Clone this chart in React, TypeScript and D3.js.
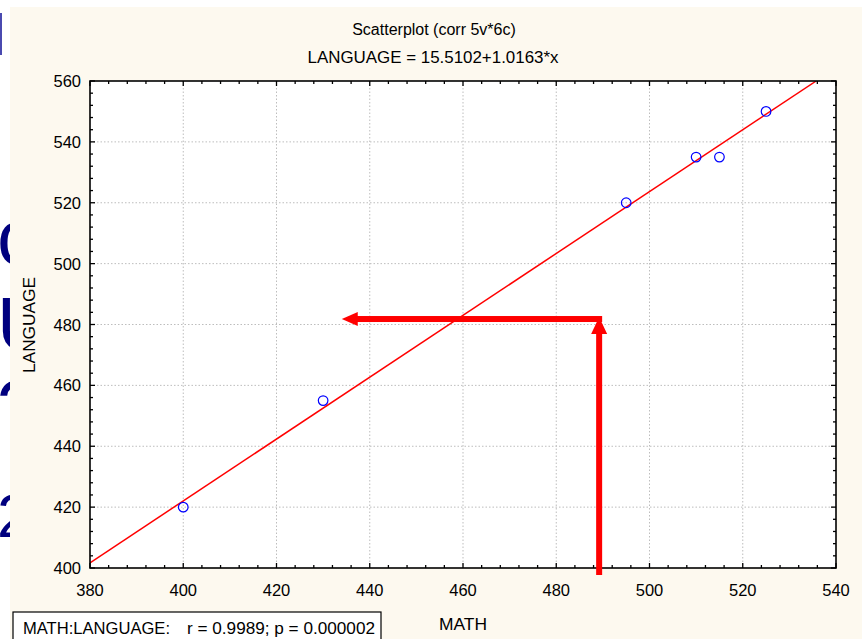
import React from "react";
import * as d3 from "d3";

// Observations: MATH score vs LANGUAGE score
const mathScores = [400, 430, 495, 510, 515, 525];
const languageScores = [420, 455, 520, 535, 535, 550];

// Fitted line LANGUAGE = a + b * MATH
const intercept = 15.5102;
const slope = 1.0163;

const xTicks = [380, 400, 420, 440, 460, 480, 500, 520, 540];
const yTicks = [400, 420, 440, 460, 480, 500, 520, 540, 560];

// Reading guide: from a MATH value up to the line, then across to LANGUAGE
const guideMath = 489.2;
const guideLanguage = 481.8;
const guideLeftEnd = 434;
const guideBottom = 397.7;

// Fragments of large slide lettering behind the panel
const sideGlyphs = [
  { ch: "c", y: 264, size: 78 },
  { ch: "U", y: 350, size: 76 },
  { ch: "?", y: 434, size: 78 },
  { ch: "2", y: 537, size: 62 },
];

const W = 862;
const H = 639;
const M = { left: 90, right: 836, top: 81, bottom: 568 };
const FONT = "'Liberation Sans', Arial, sans-serif";

export default function App() {
  const x = d3.scaleLinear().domain([380, 540]).range([M.left, M.right]);
  const y = d3.scaleLinear().domain([400, 560]).range([M.bottom, M.top]);

  const minorX = d3.range(380, 540.1, 4);
  const minorY = d3.range(400, 560.1, 4);

  const fit = (v: number) => intercept + slope * v;
  const xEnd = (560 - intercept) / slope;
  const line = d3.line<number>().x((v) => x(v)).y((v) => y(fit(v)));
  const lineD = line([380, xEnd]) || "";

  const gx = x(guideMath);
  const gy = y(guideLanguage);
  const gl = x(guideLeftEnd);
  const gb = y(guideBottom);

  return (
    <svg
      width={W}
      height={H}
      style={{ position: "absolute", left: 0, top: 0, display: "block" }}
      fontFamily={FONT}
    >
      <rect x={0} y={0} width={W} height={H} fill="#ffffff" />
      <rect x={0} y={13} width={2} height={42} fill="#4a4ab0" />
      {sideGlyphs.map((g, i) => (
        <text key={i} x={-3} y={g.y} fontSize={g.size} fill="#00007f" fontFamily={FONT}>
          {g.ch}
        </text>
      ))}
      <rect x={10} y={7} width={W - 10} height={H - 7} fill="#fdf9ef" />

      {/* titles */}
      <text x={434} y={35} textAnchor="middle" fontSize={16} fill="#000">
        Scatterplot (corr 5v*6c)
      </text>
      <text x={433} y={63} textAnchor="middle" fontSize={16} fill="#000" textLength={251} lengthAdjust="spacingAndGlyphs">
        LANGUAGE = 15.5102+1.0163*x
      </text>

      {/* plot area */}
      <rect x={M.left} y={M.top} width={M.right - M.left} height={M.bottom - M.top} fill="#ffffff" />
      <defs>
        <clipPath id="plotClip">
          <rect x={M.left} y={M.top} width={M.right - M.left} height={M.bottom - M.top} />
        </clipPath>
      </defs>

      {/* grid */}
      {xTicks.slice(1, -1).map((t) => (
        <line key={"gx" + t} x1={x(t)} x2={x(t)} y1={M.top} y2={M.bottom} stroke="#bdbdbd" strokeWidth={1} strokeDasharray="1.5,2" />
      ))}
      {yTicks.slice(1, -1).map((t) => (
        <line key={"gy" + t} x1={M.left} x2={M.right} y1={y(t)} y2={y(t)} stroke="#bdbdbd" strokeWidth={1} strokeDasharray="1.5,2" />
      ))}

      {/* regression line */}
      <path d={lineD} fill="none" stroke="#ff0000" strokeWidth={1.5} clipPath="url(#plotClip)" />

      {/* points */}
      {mathScores.map((m, i) => (
        <circle key={i} cx={x(m)} cy={y(languageScores[i])} r={4.8} fill="none" stroke="#0000ff" strokeWidth={1.2} />
      ))}

      {/* ticks (inward, all sides) */}
      {minorX.map((t) => {
        const major = Math.abs(t % 20) < 1e-6;
        const len = major ? 5 : 3;
        return (
          <g key={"tx" + t}>
            <line x1={x(t)} x2={x(t)} y1={M.bottom} y2={M.bottom - len} stroke="#000" strokeWidth={1.3} />
            <line x1={x(t)} x2={x(t)} y1={M.top} y2={M.top + len} stroke="#000" strokeWidth={1.3} />
          </g>
        );
      })}
      {minorY.map((t) => {
        const major = Math.abs(t % 20) < 1e-6;
        const len = major ? 5 : 3;
        return (
          <g key={"ty" + t}>
            <line x1={M.left} x2={M.left + len} y1={y(t)} y2={y(t)} stroke="#000" strokeWidth={1.3} />
            <line x1={M.right} x2={M.right - len} y1={y(t)} y2={y(t)} stroke="#000" strokeWidth={1.3} />
          </g>
        );
      })}

      <rect x={M.left} y={M.top} width={M.right - M.left} height={M.bottom - M.top} fill="none" stroke="#000" strokeWidth={1.6} />

      {/* tick labels */}
      {xTicks.map((t) => (
        <text key={"lx" + t} x={x(t)} y={596} textAnchor="middle" fontSize={16.5} fill="#000">
          {t}
        </text>
      ))}
      {yTicks.map((t) => (
        <text key={"ly" + t} x={81} y={y(t) + 6} textAnchor="end" fontSize={16.5} fill="#000">
          {t}
        </text>
      ))}

      {/* axis titles */}
      <text x={463} y={630} textAnchor="middle" fontSize={16} fill="#000" textLength={48} lengthAdjust="spacingAndGlyphs">
        MATH
      </text>
      <text
        transform={`translate(35,325) rotate(-90)`}
        textAnchor="middle"
        fontSize={16}
        fill="#000"
        textLength={96}
        lengthAdjust="spacingAndGlyphs"
      >
        LANGUAGE
      </text>

      {/* correlation box */}
      <rect x={13} y={612} width={368} height={40} fill="#ffffff" stroke="#000" strokeWidth={1.2} />
      <text x={23} y={634} fontSize={16} fill="#000" textLength={147} lengthAdjust="spacingAndGlyphs">
        MATH:LANGUAGE:
      </text>
      <text x={187} y={634} fontSize={16} fill="#000" textLength={188} lengthAdjust="spacingAndGlyphs">
        r = 0.9989; p = 0.000002
      </text>

      {/* reading guide arrows */}
      <g fill="#ff0000" stroke="none">
        <rect x={gx - 3} y={gy + 14} width={6} height={gb - gy - 14} />
        <polygon points={`${gx},${gy - 2} ${gx - 8},${gy + 15} ${gx + 8},${gy + 15}`} />
        <rect x={gl + 14} y={gy - 3} width={gx + 3 - gl - 14} height={6} />
        <polygon points={`${gl},${gy} ${gl + 16},${gy - 7} ${gl + 16},${gy + 7}`} />
      </g>
    </svg>
  );
}
